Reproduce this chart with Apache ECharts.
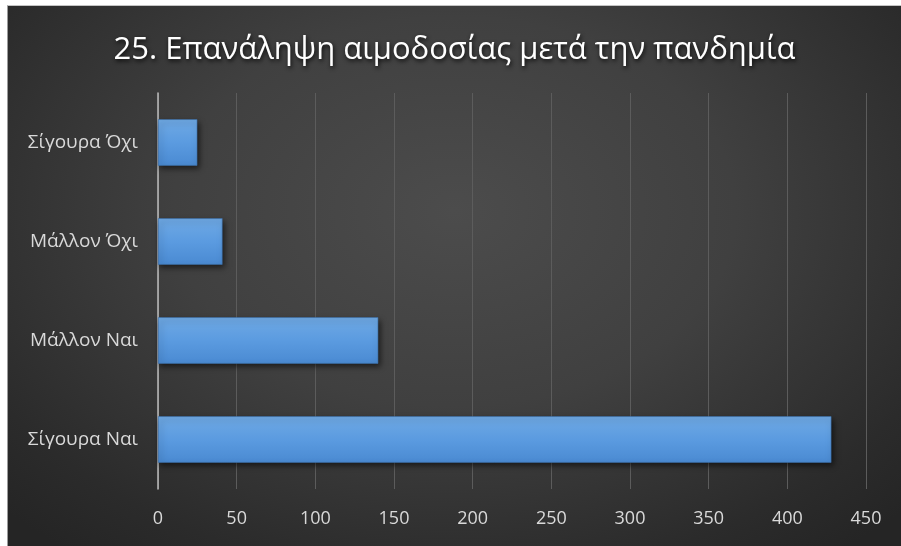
<!DOCTYPE html>
<html>
<head>
<meta charset="utf-8">
<script src="https://cdn.jsdelivr.net/npm/echarts@6/dist/echarts.min.js"></script>
<style>
  html, body { margin: 0; padding: 0; background: #ffffff; }
  #chart {
    position: absolute; left: 7px; top: 5px; width: 894px; height: 541px;
    box-sizing: border-box;
    border-left: 1px solid #9c9c9c; border-top: 1px solid #c4c4c4;
    background: radial-gradient(ellipse 70% 80% at 50% 38%, #4c4c4c 0%, #404040 45%, #2b2b2b 85%, #252525 100%);
  }
</style>
</head>
<body>
<div id="chart"></div>
<script>
// Answers to question 25, listed bottom to top on the category axis
const categories = ['Σίγουρα Ναι', 'Μάλλον Ναι', 'Μάλλον Όχι', 'Σίγουρα Όχι'];
const responses = [428, 140, 41, 25];
const titleText = '25. Επανάληψη αιμοδοσίας μετά την πανδημία';

const chart = echarts.init(document.getElementById('chart'));
chart.setOption({
  backgroundColor: 'transparent',
  animation: false,
  title: {
    text: titleText,
    left: 'center',
    top: 24,
    textStyle: {
      color: '#ffffff',
      fontFamily: 'Open Sans',
      fontSize: 31,
      fontWeight: 'normal',
      textShadowColor: 'rgba(0,0,0,0.85)',
      textShadowBlur: 4,
      textShadowOffsetX: 1,
      textShadowOffsetY: 2
    }
  },
  grid: { left: 150, right: 35, top: 87, bottom: 57 },
  xAxis: {
    type: 'value',
    min: 0, max: 450, interval: 50,
    axisLine: { show: false },
    axisTick: { show: false },
    axisLabel: { color: '#d9d9d9', fontFamily: 'Open Sans', fontSize: 18, margin: 21 },
    splitLine: { lineStyle: { color: '#5c5c5c', width: 1 } }
  },
  yAxis: {
    type: 'category',
    data: categories,
    axisLine: { show: true, lineStyle: { color: '#bdbdbd', width: 1.5 } },
    axisTick: { show: false },
    axisLabel: { color: '#d9d9d9', fontFamily: 'Open Sans', fontSize: 19, margin: 20 }
  },
  series: [{
    type: 'bar',
    data: responses,
    barCategoryGap: '53%',
    itemStyle: {
      color: {
        type: 'linear', x: 0, y: 0, x2: 0, y2: 1,
        colorStops: [
          { offset: 0, color: '#6fa9e4' },
          { offset: 0.5, color: '#5b9be0' },
          { offset: 1, color: '#4a8ad2' }
        ]
      },
      borderColor: '#3d6fa8',
      borderWidth: 0.6,
      shadowColor: 'rgba(0,0,0,0.6)',
      shadowBlur: 6,
      shadowOffsetX: 2,
      shadowOffsetY: 3
    }
  }]
});
</script>
</body>
</html>
